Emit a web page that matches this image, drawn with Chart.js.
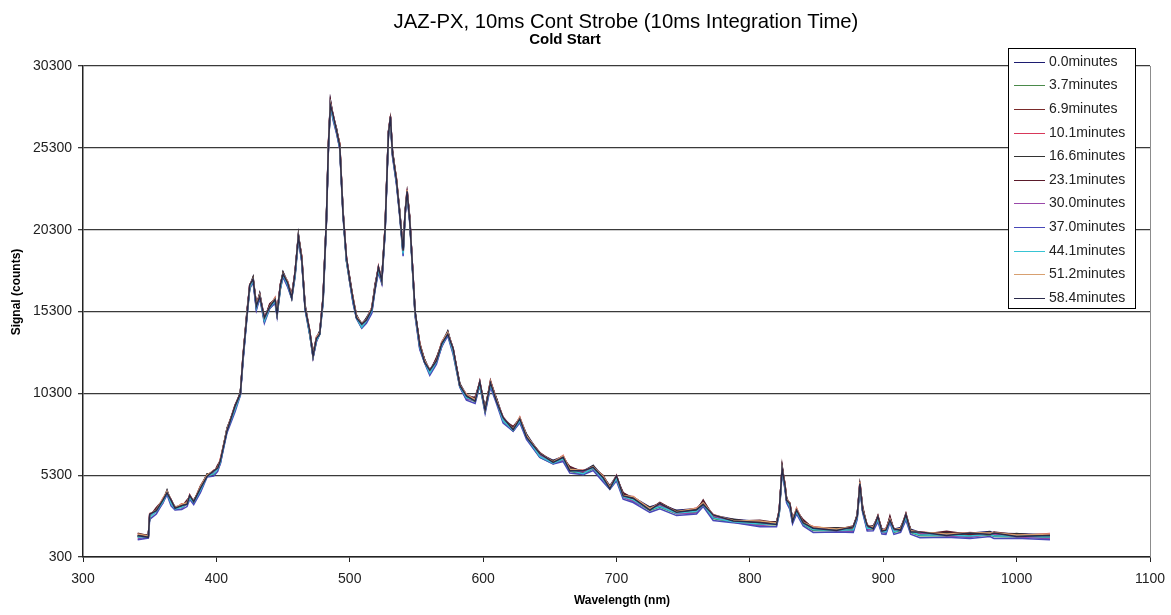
<!DOCTYPE html>
<html>
<head>
<meta charset="utf-8">
<title>JAZ-PX, 10ms Cont Strobe</title>
<script src="https://cdn.jsdelivr.net/npm/chart.js@4.4.1/dist/chart.umd.min.js"></script>
<style>
    html, body { margin: 0; padding: 0; background: #fff; }
    canvas { display: block; }
</style>
</head>
<body>
<canvas id="chart" width="1171" height="615"></canvas>
<script>
// Chart texts
const chartTitle = 'JAZ-PX, 10ms Cont Strobe (10ms Integration Time)';
const chartSubtitle = 'Cold Start';
const xAxisTitle = 'Wavelength (nm)';
const yAxisTitle = 'Signal (counts)';

// Axis ticks
const xTicks = [300, 400, 500, 600, 700, 800, 900, 1000, 1100];
const yTicks = [300, 5300, 10300, 15300, 20300, 25300, 30300];

// Shared wavelength samples (nm)
const wavelengthNm = [341,349,350,355,360,363,366,369,374,378,380,383,388,393,398,401,403,408,414,418,
420,423,425,427.5,430,432.5,436,440,444,445.5,448,450,453.5,456.5,459,461.5,464,466.5,470,472.5,
475,477.5,480,482.5,484,485.5,487.5,490,492.5,495,497.5,500,502.5,505,509,512.5,516.5,519,521.5,524,
526.5,529,530.5,532,535,537.5,540,541.5,543,545,547.5,549,552.5,556,560,565,569,573.5,577.5,582.5,
587.5,594,597.5,601.5,605.5,610,615,622.5,627.5,632.5,642.5,652.5,660,665,675,682.5,690,695,700,705,
712.5,725,732.5,745,760,765,772.5,787.5,807.5,820,822,824.2,826.3,827.5,830,832,835,840,847.5,865,
877.5,880.5,882.5,884.5,888,892.5,896,899,902,905,908,913,917,920.5,927.5,947.5,965,980,983,1000,1025];

// Signal (counts) for each elapsed time
const min00 = [1600,1600,2850,3200,3800,4350,3700,3350,3450,3650,4000,3750,4500,5350,5500,5800,6200,8150,9450,10350,
12600,15300,16900,17400,15700,16400,14900,15700,16100,15300,16900,17700,17100,16300,17700,20000,18600,15700,14100,12700,
13700,14100,16100,21000,25500,28200,27300,26500,25500,21400,18600,17300,16100,15100,14500,14900,15500,16900,18000,17300,
20400,26300,27200,25100,23400,21400,19000,21400,22700,21000,17400,15300,13300,12400,11700,12400,13400,14100,13000,10900,
10200,10000,11000,9400,11000,10000,8800,8200,8800,7800,6600,6200,6450,5750,5550,5900,5200,4650,5250,4150,
3950,3350,3550,3150,3250,3700,2850,2600,2450,2450,3100,5800,4750,3900,3500,2650,3200,2500,2100,2080,
2100,2900,4850,3300,2200,2200,2750,2000,2000,2700,2000,2100,2850,2000,1800,1780,1750,1850,1750,1720,1660];

const min37 = [1550,1560,2780,3100,3700,4250,3600,3280,3380,3580,3900,3650,4400,5250,5400,5700,6100,8050,9350,10250,
12400,15100,16700,17200,15500,16200,14700,15500,15900,15100,16700,17500,16900,16100,17500,19800,18400,15500,13900,12500,
13500,13900,15900,20800,25300,27900,27100,26300,25300,21200,18400,17100,15900,14900,14300,14700,15300,16700,17800,17100,
20200,26100,27000,24900,23200,21200,18800,21200,22500,20800,17200,15100,13100,12200,11500,12200,13200,13900,12800,10700,
10000,9800,10800,9200,10800,9800,8600,8000,8600,7600,6400,6000,6250,5550,5350,5700,5000,4450,5050,3950,
3750,3150,3350,2950,3050,3500,2650,2420,2270,2270,2930,5600,4550,3740,3330,2450,3030,2300,1920,1900,
1920,2720,4650,3130,2010,2010,2560,1800,1800,2520,1800,1910,2680,1800,1600,1600,1550,1650,1550,1540,1480];

const min69 = [1580,1590,2820,3180,3760,4320,3640,3320,3420,3620,3960,3720,4460,5320,5460,5760,6160,8120,9420,10300,
12550,15250,16750,17350,15550,16350,14750,15650,16050,15150,16850,17650,16950,16250,17650,19950,18550,15550,14050,12550,
13650,14050,16050,20950,25450,28050,27250,26450,25450,21350,18550,17250,16050,15050,14450,14850,15450,16850,17950,17250,
20350,26250,27150,25050,23350,21350,18950,21350,22650,20950,17350,15250,13250,12350,11650,12350,13350,14050,12950,10850,
10150,9950,10950,9350,10950,9950,8750,8150,8750,7750,6550,6150,6400,5700,5500,5850,5150,4600,5200,4100,
3900,3300,3500,3100,3200,3650,2800,2570,2420,2420,3080,5750,4700,3890,3480,2600,3180,2450,2070,2050,
2070,2870,4800,3280,2160,2160,2710,1950,1950,2670,1950,2060,2830,1950,1750,1750,1700,1800,1700,1690,1630];

const min101 = [1730,1530,2950,3100,3900,4250,3800,3250,3550,3550,4100,3650,4600,5250,5600,5700,6300,8050,9550,10250,
12650,15150,16950,17250,15750,16250,14950,15550,16150,15150,16950,17550,17150,16150,17750,19850,18650,15550,14150,12550,
13750,13950,16150,20850,25550,27950,27350,26350,25550,21250,18650,17150,16150,14950,14550,14750,15550,16750,18050,17150,
20450,26150,27250,24950,23450,21250,19050,21250,22750,20850,17450,15150,13350,12250,11750,12250,13450,13950,13050,10750,
10250,9850,11050,9250,11050,9850,8850,8050,8850,7650,6650,6050,6500,5600,5600,5750,5250,4500,5300,4000,
4000,3200,3600,3000,3300,3550,2900,2470,2520,2320,3180,5650,4800,3790,3580,2500,3280,2350,2170,1950,
2170,2770,4900,3180,2260,2060,2810,1850,2050,2570,2050,1960,2930,1850,1850,1650,1800,1700,1800,1590,1730];

const min166 = [1520,1670,2740,3240,3690,4390,3590,3390,3340,3690,3890,3790,4390,5390,5390,5840,6090,8190,9340,10390,
12440,15290,16740,17390,15540,16390,14740,15690,15940,15290,16740,17690,16940,16290,17540,19990,18440,15690,13940,12690,
13540,14090,15940,20990,25340,28090,27140,26490,25340,21390,18440,17290,15940,15090,14340,14890,15340,16890,17840,17290,
20240,26290,27040,25090,23240,21390,18840,21390,22540,20990,17240,15290,13140,12390,11540,12390,13240,14090,12840,10890,
10040,9990,10840,9390,10840,9990,8640,8190,8640,7790,6440,6190,6290,5740,5390,5890,5040,4640,5090,4140,
3790,3340,3390,3140,3090,3690,2690,2610,2310,2460,2970,5790,4590,3930,3370,2640,3070,2490,1960,2090,
1960,2910,4690,3320,2050,2200,2600,1990,1840,2710,1840,2100,2720,1990,1640,1790,1590,1840,1590,1730,1520];

const min231 = [1760,1600,2760,3330,3770,4260,3830,3320,3360,3780,3970,3660,4630,5320,5410,5930,6170,8060,9580,10320,
12460,15380,16820,17260,15780,16320,14760,15780,16020,15160,16980,17620,16960,16380,17620,19860,18680,15620,13960,12780,
13620,13960,16180,20920,25360,28180,27220,26360,25580,21320,18460,17380,16020,14960,14580,14820,15360,16980,17920,17160,
20480,26220,27060,25180,23320,21260,19080,21320,22560,21080,17320,15160,13380,12320,11560,12480,13320,13960,13080,10820,
10060,10080,10920,9260,11080,9920,8660,8280,8720,7660,6680,6120,6310,5830,5470,5760,5280,4570,5110,4230,
3870,3210,3630,3070,3110,3780,2770,2480,2550,2390,2990,5880,4670,3800,3610,2570,3090,2580,2040,1960,
2200,2840,4710,3410,2130,2070,2840,1920,1860,2800,1920,1970,2960,1920,1660,1880,1670,1710,1830,1660,1540];

const min300 = [1420,1560,2860,3050,3590,4280,3710,3200,3240,3580,4010,3600,4290,5280,5510,5650,5990,8080,9460,10200,
12340,15180,16860,17200,15440,16280,14860,15500,15840,15180,16860,17500,16840,16180,17660,19800,18340,15580,14060,12500,
13440,13980,16060,20800,25240,27980,27260,26300,25240,21280,18560,17100,15840,14980,14460,14700,15240,16780,17960,17100,
20140,26180,27160,24900,23140,21280,18960,21200,22440,20880,17360,15100,13040,12280,11660,12200,13140,13980,12960,10700,
9940,9880,10960,9200,10740,9880,8760,8000,8540,7680,6560,6000,6190,5630,5510,5700,4940,4530,5210,3950,
3690,3230,3510,2950,2990,3580,2810,2420,2210,2350,3090,5600,4490,3820,3490,2450,2970,2380,2080,1900,
1860,2800,4810,3130,1950,2090,2720,1800,1740,2600,1960,1910,2620,1880,1760,1600,1490,1730,1710,1540,1420];

const min370 = [1360,1460,2600,2930,3630,4100,3430,3180,3200,3380,3830,3500,4230,5180,5250,5530,6030,7900,9180,10180,
12300,14980,16680,17100,15380,16100,14580,15480,15800,14980,16680,17400,16780,16080,17400,19680,18380,15400,13880,12480,
13480,13900,15780,20680,25280,27900,26980,26200,25280,21080,18380,17100,15780,14880,14280,14580,15180,16600,17680,17000,
20080,26000,26980,24780,23100,21080,18680,21180,22380,20680,17180,15000,12980,12180,11400,12080,13180,13800,12680,10680,
9880,9680,10780,9080,10680,9680,8480,7980,8500,7480,6380,5980,6130,5430,5330,5580,4880,4430,4950,3830,
3630,3030,3250,2830,2930,3380,2530,2400,2150,2150,2910,5480,4430,3620,3210,2330,2930,2200,1800,1820,
1800,2600,4530,3030,1890,1910,2440,1700,1680,2400,1680,1810,2560,1700,1480,1500,1430,1550,1430,1440,1360];

const min441 = [1520,1530,2740,3090,3690,4240,3590,3240,3340,3540,3890,3640,4390,5240,5390,5690,6090,8040,9340,10240,
12440,15140,16740,17240,15540,16240,14740,15540,15940,15140,16740,17540,16940,16140,17540,19840,18440,15540,13940,12540,
13540,13940,15940,20840,25340,27940,27140,26340,25340,21240,18440,17140,15940,14940,14340,14740,15340,16740,17840,17140,
20240,26140,27040,24940,23240,21240,18840,21240,22540,20840,17240,15140,13140,12240,11540,12240,13240,13940,12840,10740,
10040,9840,10840,9240,10840,9840,8640,8040,8640,7640,6440,6040,6290,5590,5390,5740,5040,4490,5090,3990,
3790,3190,3390,2990,3090,3540,2690,2460,2310,2310,2970,5640,4590,3780,3370,2490,3070,2340,1960,1940,
1960,2760,4690,3170,2050,2050,2600,1840,1840,2560,1840,1950,2720,1840,1640,1640,1590,1690,1590,1580,1520];

const min512 = [1710,1590,2930,3160,3880,4310,3780,3310,3530,3610,4080,3710,4580,5310,5580,5760,6280,8110,9530,10310,
12630,15210,16930,17310,15730,16310,14930,15610,16130,15210,16930,17610,17130,16210,17730,19910,18630,15610,14130,12610,
13730,14010,16130,20910,25530,28010,27330,26410,25530,21310,18630,17210,16130,15010,14530,14810,15530,16810,18030,17210,
20430,26210,27230,25010,23430,21310,19030,21310,22730,20910,17430,15210,13330,12310,11730,12310,13430,14010,13030,10810,
10230,9910,11030,9310,11030,9910,8830,8110,8830,7710,6630,6110,6480,5660,5580,5810,5230,4560,5280,4060,
3980,3260,3580,3060,3280,3610,2880,2530,2500,2380,3160,5710,4780,3850,3560,2560,3260,2410,2150,2010,
2150,2830,4880,3240,2240,2120,2790,1910,2030,2630,2030,2020,2910,1910,1830,1710,1780,1760,1780,1650,1710];

const min584 = [1620,1500,2920,3130,3790,4220,3770,3280,3440,3520,4070,3680,4490,5220,5570,5730,6190,8020,9520,10280,
12540,15120,16920,17280,15640,16220,14920,15580,16040,15120,16920,17580,17040,16120,17720,19880,18540,15520,14120,12580,
13640,13920,16120,20880,25440,27920,27320,26380,25440,21220,18620,17180,16040,14920,14520,14780,15440,16720,18020,17180,
20340,26120,27220,24980,23340,21220,19020,21280,22640,20820,17420,15280,13240,12220,11720,12280,13340,13920,13020,10780,
10140,9820,11020,9280,10940,9820,8820,8080,8740,7620,6620,6080,6390,5570,5570,5780,5140,4470,5270,4030,
3890,3170,3570,3030,3190,3520,2870,2500,2410,2290,3150,5680,4690,3760,3550,2470,3170,2380,2060,1920,
2140,2800,4790,3150,2230,2030,2780,1880,1940,2540,2020,1930,2900,1820,1820,1620,1770,1670,1770,1560,1620];

const seriesLabels = ['0.0minutes', '3.7minutes', '6.9minutes', '10.1minutes', '16.6minutes', '23.1minutes',
    '30.0minutes', '37.0minutes', '44.1minutes', '51.2minutes', '58.4minutes'];
const seriesValues = [min00, min37, min69, min101, min166, min231, min300, min370, min441, min512, min584];
const seriesColors = ['#1c1c70', '#4a8a4a', '#7a2a2a', '#d8385a', '#333333', '#5a1a2a',
    '#9a48aa', '#4848b8', '#38c4d4', '#d8a070', '#2a2a4a'];

const fontFamily = '"Liberation Sans", Arial, Helvetica, sans-serif';

// Titles, axis titles, boxed legend and the plot-area right edge
const overlayPlugin = {
    id: 'overlay',
    afterDraw(chart) {
        const { ctx, chartArea } = chart;
        ctx.save();

        // right border of the plot area
        ctx.strokeStyle = '#8c8c8c';
        ctx.lineWidth = 1;
        ctx.beginPath();
        ctx.moveTo(chartArea.right + 0.5, chartArea.top);
        ctx.lineTo(chartArea.right + 0.5, chartArea.bottom);
        ctx.stroke();

        // title + subtitle
        ctx.fillStyle = '#000';
        ctx.textAlign = 'center';
        ctx.textBaseline = 'alphabetic';
        ctx.font = '20.3px ' + fontFamily;
        ctx.fillText(chartTitle, 626, 28);
        ctx.font = 'bold 15px ' + fontFamily;
        ctx.fillText(chartSubtitle, 565, 44);

        // axis titles
        ctx.font = 'bold 12px ' + fontFamily;
        ctx.textBaseline = 'middle';
        ctx.fillText(xAxisTitle, 622, 601);
        ctx.save();
        ctx.translate(17, 292);
        ctx.rotate(-Math.PI / 2);
        ctx.fillText(yAxisTitle, 0, 0);
        ctx.restore();

        // legend box
        const boxX = 1008.5, boxY = 48.5, boxW = 127, boxH = 260;
        ctx.fillStyle = '#fff';
        ctx.fillRect(boxX, boxY, boxW, boxH);
        ctx.strokeStyle = '#000';
        ctx.strokeRect(boxX, boxY, boxW, boxH);

        ctx.font = '14px ' + fontFamily;
        ctx.textAlign = 'left';
        chart.data.datasets.forEach((ds, i) => {
            const y = Math.round(61.7 + i * 23.6) + 0.5;
            ctx.strokeStyle = ds.borderColor;
            ctx.lineWidth = 1;
            ctx.beginPath();
            ctx.moveTo(1014, y);
            ctx.lineTo(1045, y);
            ctx.stroke();
            ctx.fillStyle = '#222';
            ctx.fillText(ds.label, 1049, y);
        });

        ctx.restore();
    }
};

function initializeChart() {
    const ctx = document.getElementById('chart').getContext('2d');

    const datasets = seriesValues.map((values, i) => ({
        label: seriesLabels[i],
        data: wavelengthNm.map((nm, j) => ({ x: nm, y: values[j] })),
        borderColor: seriesColors[i],
        borderWidth: 1.5,
        pointRadius: 0,
        tension: 0,
        fill: false,
        order: seriesValues.length - i
    }));

    new Chart(ctx, {
        type: 'line',
        data: { datasets },
        options: {
            responsive: false,
            devicePixelRatio: 1,
            animation: false,
            layout: {
                padding: { top: 66, right: 21, left: 0, bottom: 0 }
            },
            plugins: {
                legend: { display: false },
                tooltip: { enabled: false },
                title: { display: false }
            },
            scales: {
                x: {
                    type: 'linear',
                    min: 300,
                    max: 1100,
                    afterBuildTicks: (axis) => { axis.ticks = xTicks.map(v => ({ value: v })); },
                    afterFit: (axis) => {
                        axis.height = 58;
                        axis.paddingLeft = 0;
                        axis.paddingRight = 0;
                    },
                    ticks: {
                        color: '#222',
                        font: { family: fontFamily, size: 14 },
                        padding: 9,
                        maxRotation: 0,
                        autoSkip: false,
                        callback: (v) => String(v)
                    },
                    grid: {
                        drawOnChartArea: false,
                        tickLength: 5,
                        color: '#222'
                    },
                    border: { color: '#222', width: 1.5 }
                },
                y: {
                    min: 300,
                    max: 30300,
                    afterBuildTicks: (axis) => { axis.ticks = yTicks.map(v => ({ value: v })); },
                    afterFit: (axis) => {
                        axis.width = 83;
                        axis.paddingTop = 0;
                        axis.paddingBottom = 0;
                    },
                    ticks: {
                        color: '#222',
                        font: { family: fontFamily, size: 14 },
                        padding: 6,
                        autoSkip: false,
                        callback: (v) => String(v)
                    },
                    grid: {
                        color: '#3a3a3a',
                        lineWidth: 1.3,
                        tickLength: 5
                    },
                    border: { color: '#222', width: 1.5 }
                }
            }
        },
        plugins: [overlayPlugin]
    });
}

document.addEventListener('DOMContentLoaded', initializeChart);
</script>
</body>
</html>
